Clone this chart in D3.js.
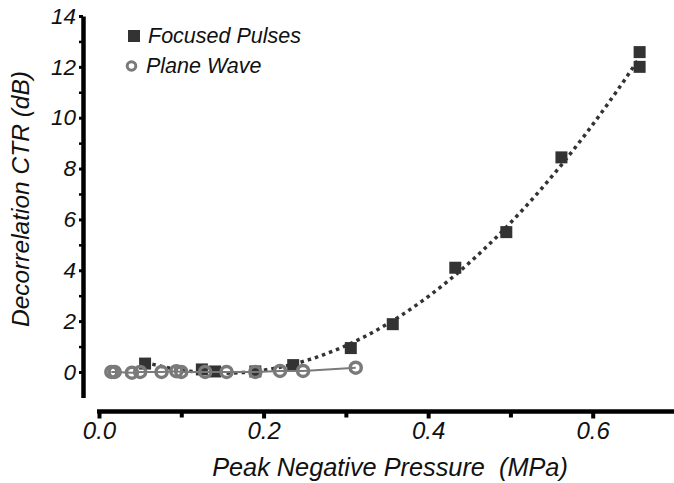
<!DOCTYPE html>
<html><head><meta charset="utf-8">
<script src="https://cdn.jsdelivr.net/npm/d3@7/dist/d3.min.js"></script>
<style>
html,body{margin:0;padding:0;background:#fff;}
text{font-family:"Liberation Sans",Arial,sans-serif;font-style:italic;white-space:pre;}
</style></head>
<body><svg id="c" width="674" height="483"></svg>
<script>
// Data
const focusedX = [0.056, 0.125, 0.141, 0.190, 0.236, 0.306, 0.357, 0.433, 0.495, 0.562, 0.657, 0.657];
const focusedY = [0.33, 0.10, 0.02, 0.02, 0.27, 0.94, 1.88, 4.10, 5.50, 8.44, 12.00, 12.58];
const planeX = [0.015, 0.019, 0.040, 0.050, 0.076, 0.094, 0.100, 0.129, 0.155, 0.190, 0.220, 0.248, 0.312];
const planeY = [0.00, 0.00, -0.03, 0.00, 0.00, 0.03, 0.00, 0.00, 0.00, 0.00, 0.04, 0.04, 0.17];
const xTicks = [0.0, 0.2, 0.4, 0.6];
const xMinor = [0.1, 0.3, 0.5];
const yTicks = [0, 2, 4, 6, 8, 10, 12, 14];
const yMinor = [1, 3, 5, 7, 9, 11, 13];
const seriesNames = ["Focused Pulses", "Plane Wave"];
const xTitle = "Peak Negative Pressure\u00a0\u00a0(MPa)";
const yTitle = "Decorrelation CTR (dB)";

const svg = d3.select("#c");
const x = d3.scaleLinear([0, 0.7], [99, 675]);
const y = d3.scaleLinear([-1, 14], [397.4, 16]);

// quadratic least-squares fit for focused pulses
function polyfit2(xs, ys) {
  const S = [0,0,0,0,0], T = [0,0,0];
  xs.forEach((xv, i) => {
    for (let k = 0; k < 5; k++) S[k] += Math.pow(xv, k);
    for (let k = 0; k < 3; k++) T[k] += ys[i] * Math.pow(xv, k);
  });
  const A = [[S[0],S[1],S[2],T[0]],[S[1],S[2],S[3],T[1]],[S[2],S[3],S[4],T[2]]];
  for (let i = 0; i < 3; i++) {
    for (let j = i + 1; j < 3; j++) {
      const f = A[j][i] / A[i][i];
      for (let k = i; k < 4; k++) A[j][k] -= f * A[i][k];
    }
  }
  const c = [0,0,0];
  for (let i = 2; i >= 0; i--) {
    let s = A[i][3];
    for (let k = i + 1; k < 3; k++) s -= A[i][k] * c[k];
    c[i] = s / A[i][i];
  }
  return c;
}
const coef = polyfit2(focusedX, focusedY);
const x0 = d3.min(focusedX), x1 = d3.max(focusedX);
const fitPts = d3.range(0, 101).map(i => {
  const xv = x0 + (x1 - x0) * i / 100;
  return [xv, coef[0] + coef[1] * xv + coef[2] * xv * xv];
});

const FONT = "Liberation Sans, Arial, sans-serif";
// Axes
const yAxisX = 83;
const gy = svg.append("g").attr("transform", `translate(${yAxisX},0)`);
gy.call(d3.axisLeft(y).tickValues(yTicks).tickSize(4).tickSizeOuter(0).tickPadding(3).tickFormat(d3.format("d")));
gy.select(".domain").attr("stroke", "#000").attr("stroke-width", 4.5);
gy.selectAll(".tick line").attr("stroke", "#000").attr("stroke-width", 3);
gy.selectAll(".tick text").attr("font-size", 22.5).attr("fill", "#111").attr("font-family", FONT).attr("font-style", "italic");
const gym = svg.append("g").attr("transform", `translate(${yAxisX},0)`);
gym.call(d3.axisLeft(y).tickValues(yMinor).tickSize(4).tickSizeOuter(0).tickFormat(""));
gym.select(".domain").remove();
gym.selectAll(".tick line").attr("stroke", "#000").attr("stroke-width", 2.5);

const xAxisY = 411.5;
const gx = svg.append("g").attr("transform", `translate(0,${xAxisY})`);
gx.call(d3.axisBottom(x).tickValues(xTicks).tickSize(7).tickSizeOuter(0).tickPadding(2).tickFormat(d3.format(".1f")));
gx.select(".domain").attr("stroke", "#000").attr("stroke-width", 4.5).attr("d", `M${x(0)-2},0H674`);
gx.selectAll(".tick line").attr("stroke", "#000").attr("stroke-width", 4);
gx.selectAll(".tick text").attr("font-size", 24).attr("fill", "#111").attr("font-family", FONT).attr("font-style", "italic").attr("dy", "0.75em");
const gxm = svg.append("g").attr("transform", `translate(0,${xAxisY})`);
gxm.call(d3.axisBottom(x).tickValues(xMinor).tickSize(6).tickSizeOuter(0).tickFormat(""));
gxm.select(".domain").remove();
gxm.selectAll(".tick line").attr("stroke", "#000").attr("stroke-width", 4);

// Titles
svg.append("text").attr("x", 390).attr("y", 476).attr("text-anchor", "middle")
  .attr("font-size", 25.3).attr("fill", "#111").text(xTitle);
svg.append("text").attr("transform", "translate(29,199) rotate(-90)").attr("text-anchor", "middle")
  .attr("font-size", 24.5).attr("fill", "#111").text(yTitle);

// Fit curve (dotted)
svg.append("path").datum(fitPts)
  .attr("d", d3.line().x(d => x(d[0])).y(d => y(d[1])))
  .attr("fill", "none").attr("stroke", "#333").attr("stroke-width", 3.5)
  .attr("stroke-dasharray", "3.5,4");

// Focused squares
const sq = 12;
svg.append("g").selectAll("rect").data(focusedX.map((d, i) => [d, focusedY[i]])).join("rect")
  .attr("x", d => x(d[0]) - sq / 2).attr("y", d => y(d[1]) - sq / 2)
  .attr("width", sq).attr("height", sq).attr("fill", "#333");

// Plane wave line + circles
const planePts = planeX.map((d, i) => [d, planeY[i]]);
svg.append("path").datum(planePts)
  .attr("d", d3.line().x(d => x(d[0])).y(d => y(d[1])))
  .attr("fill", "none").attr("stroke", "#7a7a7a").attr("stroke-width", 2);
svg.append("g").selectAll("circle").data(planePts).join("circle")
  .attr("cx", d => x(d[0])).attr("cy", d => y(d[1])).attr("r", 5.5)
  .attr("fill", "none").attr("stroke", "#7a7a7a").attr("stroke-width", 3.5);

// Legend
const lg = svg.append("g");
lg.append("rect").attr("x", 128).attr("y", 30).attr("width", 12).attr("height", 12).attr("fill", "#333");
lg.append("text").attr("x", 148).attr("y", 43).attr("font-size", 21.5).attr("fill", "#111").text(seriesNames[0]);
lg.append("circle").attr("cx", 131.5).attr("cy", 66).attr("r", 4.3).attr("fill", "none").attr("stroke", "#7a7a7a").attr("stroke-width", 3);
lg.append("text").attr("x", 146).attr("y", 73).attr("font-size", 21.5).attr("fill", "#111").text(seriesNames[1]);
</script>
</body></html>
